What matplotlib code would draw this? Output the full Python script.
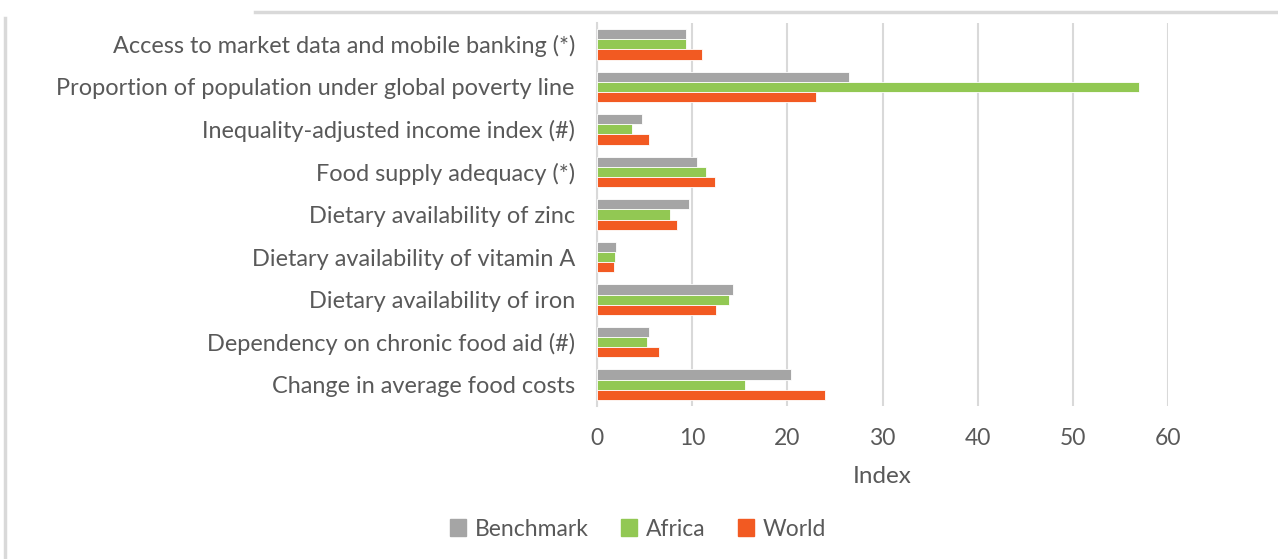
import matplotlib
matplotlib.use("Agg")
import matplotlib.pyplot as plt
import numpy as np
from matplotlib.lines import Line2D

categories = [
    "Access to market data and mobile banking (*)",
    "Proportion of population under global poverty line",
    "Inequality-adjusted income index (#)",
    "Food supply adequacy (*)",
    "Dietary availability of zinc",
    "Dietary availability of vitamin A",
    "Dietary availability of iron",
    "Dependency on chronic food aid (#)",
    "Change in average food costs",
]
benchmark = [9.4, 26.5, 4.7, 10.5, 9.7, 2.0, 14.3, 5.5, 20.4]
africa = [9.3, 57.0, 3.7, 11.5, 7.7, 1.9, 13.9, 5.3, 15.5]
world = [11.0, 23.0, 5.5, 12.4, 8.4, 1.8, 12.5, 6.5, 24.0]
series_names = ["Benchmark", "Africa", "World"]
colors = ["#A5A5A5", "#92C853", "#F25A22"]
xticks = [0, 10, 20, 30, 40, 50, 60]

plt.rcParams['font.family'] = ['Lato', 'DejaVu Sans']
txt = "#595959"

fig = plt.figure(figsize=(12.78, 5.59), dpi=100)
ax = fig.add_axes([597/1278, 1-406/559, (1168-597)/1278, (406-23)/559])

n = len(categories)
y = np.arange(n)[::-1].astype(float)
bh = 0.24
for i, (vals, c, name) in enumerate(zip([benchmark, africa, world], colors, series_names)):
    ax.barh(y + (1 - i) * bh, vals, height=bh, color=c, edgecolor="white", linewidth=0.6, label=name, zorder=3)

ax.set_xlim(0, 60)
ax.set_ylim(-0.5, n - 0.5)
ax.set_xticks(xticks)
ax.set_xticklabels([str(t) for t in xticks], fontsize=16.5, color=txt)
ax.set_yticks(y)
ax.set_yticklabels(categories, fontsize=16.9, color=txt)
ax.tick_params(axis='y', length=0, pad=16)
ax.tick_params(axis='x', length=0, pad=16)
ax.grid(axis='x', color="#D9D9D9", linewidth=1.5, zorder=0)
for s in ["top", "right", "bottom"]:
    ax.spines[s].set_visible(False)
ax.spines["left"].set_color("#D9D9D9")
ax.spines["left"].set_linewidth(1.5)
ax.set_xlabel("Index", fontsize=17.5, color=txt, labelpad=12)

handles = [plt.Rectangle((0, 0), 1, 1, color=c) for c in colors]
fig.legend(handles, series_names, loc="center", bbox_to_anchor=(638/1278, 1-529/559),
           ncol=3, frameon=False, fontsize=16.5, labelcolor=txt,
           handlelength=0.7, handleheight=0.7, handletextpad=0.4, columnspacing=1.4)

# decorative frame lines
fig.add_artist(Line2D([255/1278, 1], [1-12/559, 1-12/559], color="#D9D9D9", linewidth=2.5))
fig.add_artist(Line2D([5/1278, 5/1278], [0, 1-18/559], color="#D9D9D9", linewidth=2.5))

fig.savefig("out.png", dpi=100)
